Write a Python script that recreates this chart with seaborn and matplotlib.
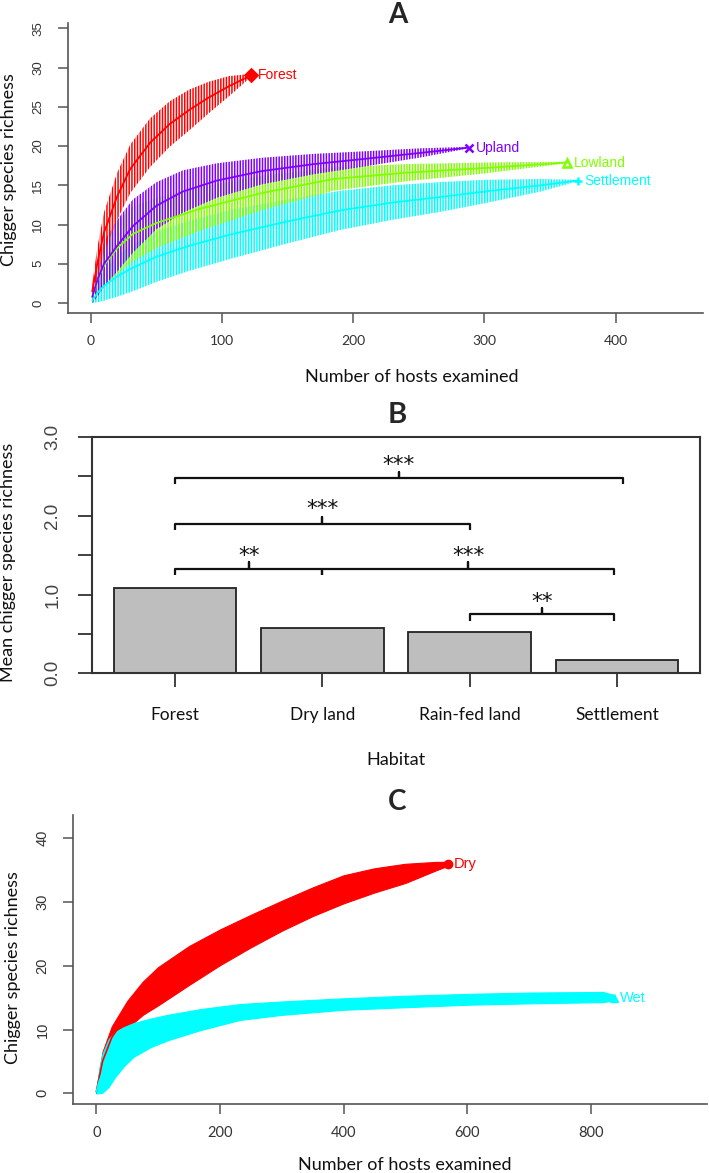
import numpy as np
import pandas as pd
import matplotlib
matplotlib.use("Agg")
import matplotlib.pyplot as plt
import seaborn as sns

# ---------------- Panel A: species accumulation by habitat ----------------
forest_hosts = [1, 5, 10, 20, 30, 45, 60, 75, 90, 105, 122]
forest_mean = [1.5, 5.2, 9.0, 13.6, 17.1, 20.4, 22.8, 24.6, 26.2, 27.6, 29.0]
forest_sd = [1.0, 2.0, 2.6, 3.0, 3.1, 3.1, 2.9, 2.6, 2.0, 1.3, 0.2]

upland_hosts = [1, 5, 10, 20, 32, 50, 70, 96, 130, 170, 205, 250, 288]
upland_mean = [0.8, 3.0, 5.0, 7.3, 9.8, 12.4, 14.2, 15.6, 16.8, 17.7, 18.3, 19.1, 19.8]
upland_sd = [0.8, 2.2, 2.9, 3.3, 3.4, 3.0, 2.7, 2.2, 1.7, 1.3, 1.0, 0.6, 0.1]

lowland_hosts = [1, 5, 10, 20, 32, 50, 83, 130, 185, 240, 300, 363]
lowland_mean = [0.7, 3.0, 4.8, 7.0, 8.8, 10.2, 12.0, 14.0, 15.8, 16.6, 17.2, 17.9]
lowland_sd = [0.7, 2.0, 2.8, 3.3, 3.5, 3.2, 2.8, 2.2, 1.5, 1.1, 0.7, 0.1]

settle_hosts = [1, 5, 10, 20, 32, 50, 75, 108, 150, 190, 230, 266, 300, 343, 371]
settle_mean = [0.3, 1.3, 2.2, 3.4, 4.5, 5.9, 7.3, 8.8, 10.4, 11.8, 12.8, 13.5, 14.2, 15.0, 15.6]
settle_sd = [0.3, 1.2, 1.9, 2.6, 3.0, 3.2, 3.2, 3.1, 2.8, 2.5, 2.2, 1.9, 1.5, 0.8, 0.1]

# ---------------- Panel B: mean richness per habitat ----------------
habitats = ["Forest", "Dry land", "Rain-fed land", "Settlement"]
habitat_means = [1.08, 0.57, 0.53, 0.17]
brk_left = [0, 0, 0, 1, 2]
brk_right = [3.04, 2, 1, 2.98, 2.98]
brk_level = [2.48, 1.90, 1.33, 1.33, 0.75]
brk_stars = ["***", "***", "**", "***", "**"]
star_level = [2.64, 2.09, 1.49, 1.49, 0.90]

# ---------------- Panel C: dry vs wet season (band envelopes) ----------------
dry_hosts = [0, 10, 25, 50, 75, 100, 150, 200, 250, 300, 350, 400, 450, 500, 550, 569]
dry_upper = [0.5, 6.5, 10.5, 14.5, 17.5, 19.8, 23.1, 25.7, 28.0, 30.2, 32.3, 34.2, 35.3, 36.0, 36.3, 36.3]
dry_lower = [0.0, 3.5, 7.0, 10.2, 12.3, 13.8, 17.0, 20.1, 22.9, 25.5, 27.8, 29.8, 31.5, 33.0, 35.0, 35.7]

wet_hosts = [0, 5, 10, 20, 30, 45, 60, 87, 115, 168, 232, 300, 400, 500, 604, 700, 819, 838]
wet_upper = [0.5, 4.0, 6.2, 8.5, 9.6, 10.4, 11.0, 11.7, 12.3, 13.2, 14.0, 14.4, 14.9, 15.3, 15.6, 15.8, 15.9, 15.4]
wet_lower = [0.0, 0.0, 0.1, 1.0, 2.5, 4.3, 5.7, 7.2, 8.3, 9.9, 11.5, 12.3, 13.1, 13.5, 13.9, 14.1, 14.3, 14.6]

RED, GREEN, CYAN, PURPLE = "#FF0000", "#80FF00", "#00FFFF", "#8000FF"

sns.set_theme(style="white")
plt.rcParams["font.family"] = ["Lato", "DejaVu Sans"]
plt.rcParams["hatch.linewidth"] = 1.1

W, H = 709, 1173
fig = plt.figure(figsize=(W / 100, H / 100), dpi=100)
fig.patch.set_facecolor("white")


def fx(p):
    return p / W


def fy(p):
    return 1 - p / H


ARIAL = ["Liberation Sans", "DejaVu Sans"]
LATO = ["Lato", "DejaVu Sans"]

# ======================= Panel A =======================
axA = fig.add_axes([fx(68), fy(313), (703 - 68) / W, (313 - 23) / H])
seriesA = [
    ("Settlement", settle_hosts, settle_mean, settle_sd, CYAN, "+"),
    ("Lowland", lowland_hosts, lowland_mean, lowland_sd, GREEN, "^"),
    ("Upland", upland_hosts, upland_mean, upland_sd, PURPLE, "x"),
    ("Forest", forest_hosts, forest_mean, forest_sd, RED, "D"),
]
for name, hx, hm, hs, col, mk in seriesA:
    hx = np.asarray(hx, float)
    hm = np.asarray(hm, float)
    hs = np.asarray(hs, float)
    axA.fill_between(hx, hm - hs, hm + hs, facecolor="none", edgecolor=col,
                     hatch="||||||", linewidth=0)
    sns.lineplot(x=hx, y=hm, color=col, lw=1.3, ax=axA, estimator=None, sort=False)
    axA.plot(hx[-1], hm[-1], marker=mk, color=col, ms=6, mew=1.8,
             mfc="none" if mk == "^" else col)
    axA.annotate(name, (hx[-1], hm[-1]), xytext=(5, 0), textcoords="offset points",
                 color=col, va="center", ha="left", fontsize=10, family=ARIAL)

axA.set_xlim(-17.5, 466.6)
axA.set_ylim(-1.27, 35.67)
axA.set_xticks([0, 100, 200, 300, 400])
axA.set_yticks(np.arange(0, 36, 5))
for s in ["top", "right"]:
    axA.spines[s].set_visible(False)
for s in ["left", "bottom"]:
    axA.spines[s].set_color("#555555")
    axA.spines[s].set_linewidth(1.2)
axA.tick_params(axis="both", direction="out", length=7, width=1.1, color="#555555",
                labelcolor="#333333", bottom=True, left=True)
axA.tick_params(axis="x", pad=9, labelsize=10)
axA.tick_params(axis="y", pad=10, labelsize=9.5)
for lab in axA.get_yticklabels():
    lab.set_rotation(90)
    lab.set_va("center")
    lab.set_family(ARIAL)
for lab in axA.get_xticklabels():
    lab.set_family(LATO)
axA.set_xlabel("")
axA.set_ylabel("")

fig.text(fx(398), fy(15), "A", ha="center", va="center", fontsize=20,
         fontweight="bold", family=LATO)
fig.text(fx(9.5), fy(170), "Chigger species richness", rotation=90, ha="center",
         va="center", fontsize=13, family=LATO, color="#111111")
fig.text(fx(412), fy(377), "Number of hosts examined", ha="center", va="center",
         fontsize=13, family=LATO, color="#111111")

# ======================= Panel B =======================
axB = fig.add_axes([fx(92), fy(673.3), (700 - 92) / W, (673.3 - 437) / H])
dfB = pd.DataFrame({"Habitat": habitats, "Mean": habitat_means})
sns.barplot(data=dfB, x="Habitat", y="Mean", color="#BEBEBE", saturation=1,
            edgecolor="#222222", linewidth=1.3, width=0.833, ax=axB)
axB.set_xlim(-0.563, 3.563)
axB.set_ylim(0, 3)
axB.set_yticks(np.arange(0, 3.01, 0.5))
axB.set_yticklabels(["0.0", "", "1.0", "", "2.0", "", "3.0"])
for s in axB.spines.values():
    s.set_visible(True)
    s.set_color("#333333")
    s.set_linewidth(1.5)
axB.tick_params(axis="both", direction="out", length=10, width=1.3, color="#333333",
                bottom=True, left=True)
axB.tick_params(axis="y", pad=12, labelsize=13.5, labelcolor="#444444")
axB.tick_params(axis="x", pad=14, labelsize=12.5, labelcolor="#111111")
for lab in axB.get_yticklabels():
    lab.set_rotation(90)
    lab.set_va("center")
    lab.set_family(ARIAL)
for lab in axB.get_xticklabels():
    lab.set_family(LATO)
axB.set_xlabel("")
axB.set_ylabel("")

hook = 0.08
for l, r, yv, st, sy in zip(brk_left, brk_right, brk_level, brk_stars, star_level):
    m = (l + r) / 2
    xs = [l, l, m, m, m, r, r]
    ys = [yv - hook, yv, yv, yv + hook, yv, yv, yv - hook]
    axB.plot(xs, ys, color="#111111", lw=1.6, solid_joinstyle="round",
             solid_capstyle="butt")
    axB.text(m, sy, st, ha="center", va="center", fontsize=15.5, color="#111111",
             family=["DejaVu Sans"])

fig.text(fx(397), fy(415), "B", ha="center", va="center", fontsize=21,
         fontweight="bold", family=LATO)
fig.text(fx(8.5), fy(562), "Mean chigger species richness", rotation=90,
         ha="center", va="center", fontsize=13, family=LATO, color="#111111")
fig.text(fx(396), fy(760), "Habitat", ha="center", va="center", fontsize=13,
         family=LATO, color="#111111")

# ======================= Panel C =======================
axC = fig.add_axes([fx(73), fy(1104), (707 - 73) / W, (1104 - 815) / H])
seriesC = [
    ("Dry", dry_hosts, dry_lower, dry_upper, RED, "o"),
    ("Wet", wet_hosts, wet_lower, wet_upper, CYAN, "^"),
]
for name, hx, lo, hi, col, mk in seriesC:
    hx = np.asarray(hx, float)
    lo = np.asarray(lo, float)
    hi = np.asarray(hi, float)
    axC.fill_between(hx, lo, hi, color=col, linewidth=0.8, edgecolor=col)
    mid = (lo + hi) / 2
    sns.lineplot(x=hx, y=mid, color=col, lw=1.2, ax=axC, estimator=None, sort=False)
    axC.plot(hx[-1], mid[-1], marker=mk, color=col, ms=6)
    axC.annotate(name, (hx[-1], mid[-1]), xytext=(4, 0), textcoords="offset points",
                 color=col, va="center", ha="left", fontsize=10.5, family=ARIAL)

axC.set_xlim(-37.7, 987.6)
axC.set_ylim(-1.68, 43.65)
axC.set_xticks([0, 200, 400, 600, 800])
axC.set_yticks([0, 10, 20, 30, 40])
for s in ["top", "right"]:
    axC.spines[s].set_visible(False)
for s in ["left", "bottom"]:
    axC.spines[s].set_color("#555555")
    axC.spines[s].set_linewidth(1.2)
axC.tick_params(axis="both", direction="out", length=7, width=1.1, color="#555555",
                labelcolor="#333333", bottom=True, left=True)
axC.tick_params(axis="x", pad=9, labelsize=10.5)
axC.tick_params(axis="y", pad=10, labelsize=10.5)
for lab in axC.get_yticklabels():
    lab.set_rotation(90)
    lab.set_va("center")
    lab.set_family(ARIAL)
for lab in axC.get_xticklabels():
    lab.set_family(LATO)
axC.set_xlabel("")
axC.set_ylabel("")

fig.text(fx(397), fy(802), "C", ha="center", va="center", fontsize=20,
         fontweight="bold", family=LATO)
fig.text(fx(13.5), fy(968), "Chigger species richness", rotation=90, ha="center",
         va="center", fontsize=13, family=LATO, color="#111111")
fig.text(fx(405), fy(1165), "Number of hosts examined", ha="center", va="center",
         fontsize=13, family=LATO, color="#111111")

fig.savefig("out.png", dpi=100, facecolor="white")
